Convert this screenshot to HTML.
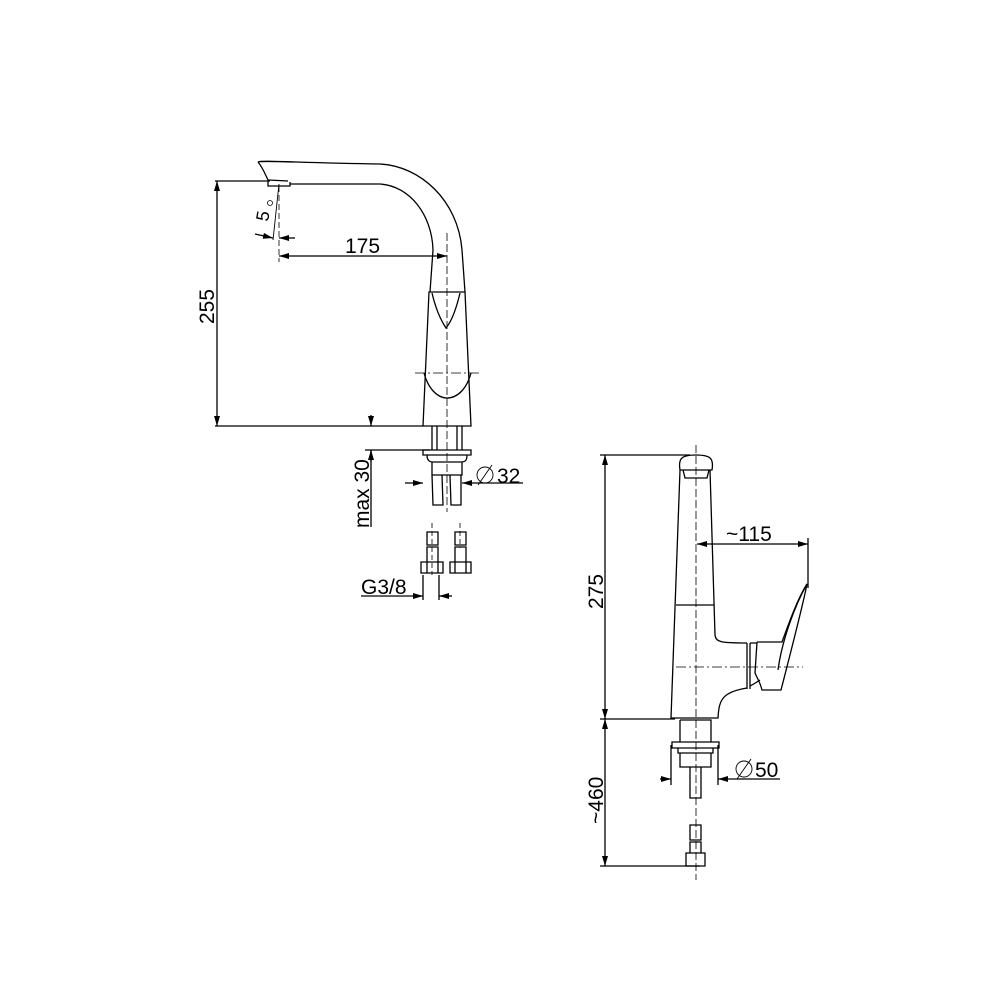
<!DOCTYPE html>
<html><head><style>html,body{margin:0;padding:0;background:#fff}svg{display:block}text{font-family:"Liberation Sans",Arial,sans-serif;font-size:21px;fill:#000}</style></head><body>
<svg width="1000" height="1000" viewBox="0 0 1000 1000" xmlns="http://www.w3.org/2000/svg">
<defs>
<marker id="a" viewBox="0 0 10 6" refX="10" refY="3" markerWidth="10" markerHeight="6" orient="auto-start-reverse" markerUnits="userSpaceOnUse"><path d="M0,0L10,3L0,6z" fill="#000"/></marker>
</defs>
<g fill="none" stroke="#000" stroke-width="1.3">
<path d="M258,162 C262,160 300,163 380,164 C420,166 458,200 462,250 L465,292"/>
<path d="M290,184 L380,184 C410,186 432,215 433,250 L430,292"/>
<path d="M258,162 C263,168 266,176 268,180 L268,186 L290,186 L290,182"/>
<path d="M268,180 L288,181"/>
<path d="M429,292 L465,292 L471,426 L423,426 Z"/>
<path d="M432,293 C436,310 442,322 446,328 C451,322 456,310 460,293"/>
<path d="M424,373 C428,388 437,398 447,398 C458,398 467,388 471,373"/>
<path d="M415,373 L480,373" stroke-dasharray="10,3,2,3" stroke-width="0.8"/>
<path d="M447,233 L447,512" stroke-dasharray="8,3" stroke-width="0.8"/>
<path d="M432,426 L432,450 M462,426 L462,450 M437,426 L437,450 M457,426 L457,450"/>
<path d="M423,450 L471,450 L471,455 L423,455 Z"/>
<path d="M427,455 C427,462 431,462 434,462 L460,462 C464,462 467,462 467,455"/>
<path d="M432,462 L432,475 L462,475 L462,462"/>
<path d="M432,475 L433,505 L443,505 L442,475 M450,475 L451,505 L461,505 L461,475"/>
<path d="M427,532 L438,532 L438,545 L427,545 Z M427,547 L438,547 L438,562 L427,562 Z M421,562 L443,562 L443,573 L421,573 Z M427,562 L427,573 M438,562 L438,573"/>
<path d="M455,532 L466,532 L466,545 L455,545 Z M455,547 L466,547 L466,562 L455,562 Z M450,562 L471,562 L471,573 L450,573 Z M455,562 L455,573 M466,562 L466,573"/>
<path d="M432,523 L432,575 M460,523 L460,548" stroke-dasharray="5,3" stroke-width="0.8"/>
<path d="M215,181 L270,181 M215,426 L423,426"/>
<path d="M217,181 L217,426" marker-start="url(#a)" marker-end="url(#a)"/>
<path d="M279,186 L279,262" stroke-dasharray="6,3" stroke-width="0.8"/>
<path d="M279,184 L273,240" stroke-width="0.9"/>
<path d="M279,256 L447,256" marker-start="url(#a)" marker-end="url(#a)"/>
<path d="M255,234 L273,238" marker-end="url(#a)"/>
<path d="M295,238 L279,238" marker-end="url(#a)"/>
<path d="M371,415 L371,426" marker-end="url(#a)"/>
<path d="M371,450 L371,527" />
<path d="M371,462 L371,450" marker-end="url(#a)"/>
<path d="M365,450 L430,450"/>
<path d="M405,483 L423,483" marker-end="url(#a)"/>
<path d="M523,483 L462,483" marker-end="url(#a)"/>
<path d="M423,575 L423,600 M439,575 L439,600"/>
<path d="M361,596 L423,596" marker-end="url(#a)"/>
<path d="M452,596 L439,596" marker-end="url(#a)"/>
<circle cx="270" cy="203" r="2.5" stroke-width="0.8"/>
<circle cx="485" cy="475" r="8" stroke-width="0.9"/><path d="M478,485 L492,465" stroke-width="0.9"/>

<path d="M680,470 C678,458 682,455 696,455 C710,455 714,458 712,470 Z"/>
<path d="M683,470 L685,478 L707,478 L709,470"/>
<path d="M680,470 L671,718 L718,718 C719,700 722,692 747,688 M710,470 L715,635 C716,642 720,643 747,643"/>
<path d="M676,605 L714,605"/>
<path d="M747,643 L747,689 M750,643 L750,689 M750,643 L757,643"/>
<path d="M757,642 L782,642 C790,620 798,598 807,584 C803,605 790,655 781,690 L762,690 C760,682 758,680 755,673 L757,642"/>
<path d="M778,670 C782,640 795,605 807,584"/>
<path d="M750,686 C754,684 757,682 760,680"/>
<path d="M676,667 L803,667" stroke-dasharray="10,3,2,3" stroke-width="0.8"/>
<path d="M696,445 L696,880" stroke-dasharray="8,3" stroke-width="0.8"/>
<path d="M680,720 L711,720 L711,742 M680,720 L680,742"/>
<path d="M672,742 L719,742 L719,748 L672,748 Z"/>
<path d="M678,748 L678,753 L713,753 L713,748"/>
<path d="M680,753 L680,767 L711,767 L711,753"/>
<path d="M690,767 L690,798 L701,798 L701,767"/>
<path d="M690,825 L701,825 L701,840 L690,840 Z M690,842 L701,842 L701,853 L690,853 Z M686,853 L705,853 L705,866 L686,866 Z"/>
<path d="M600,455 L690,455 M600,719 L675,719 M600,866 L700,866"/>
<path d="M605,455 L605,719" marker-start="url(#a)" marker-end="url(#a)"/>
<path d="M605,719 L605,866" marker-start="url(#a)" marker-end="url(#a)"/>
<path d="M697,544 L808,544" marker-start="url(#a)" marker-end="url(#a)"/>
<path d="M808,538 L808,588"/>
<path d="M671,745 L671,785 M718,745 L718,785"/>
<path d="M660,779 L671,779" marker-end="url(#a)"/>
<path d="M780,779 L718,779" marker-end="url(#a)"/>
<circle cx="744" cy="769" r="8" stroke-width="0.9"/><path d="M737,779 L751,759" stroke-width="0.9"/>
</g>
<text x="345" y="253">175</text>
<text x="497" y="483">32</text>
<text x="361" y="594">G3/8</text>
<text x="726" y="541">~115</text>
<text x="755" y="777">50</text>
<text transform="translate(214,324) rotate(-90)">255</text>
<text transform="translate(369,528) rotate(-90)">max 30</text>
<text transform="translate(603,609) rotate(-90)">275</text>
<text transform="translate(603,824) rotate(-90)">~460</text>
<text transform="translate(268,222) rotate(-80)" style="font-size:18px">5</text>
</svg>
</body></html>
